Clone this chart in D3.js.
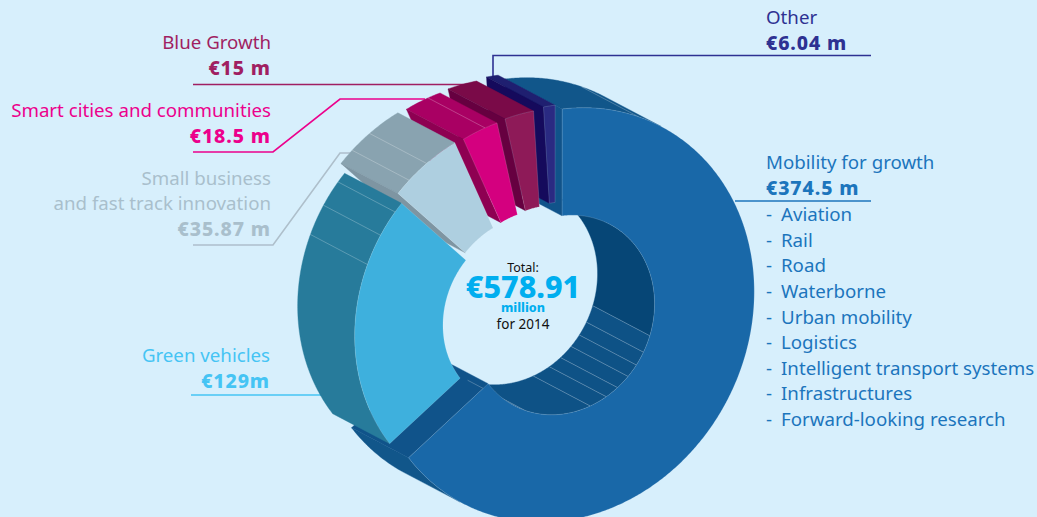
<!DOCTYPE html>
<html>
<head>
<meta charset="utf-8">
<script src="https://cdn.jsdelivr.net/npm/d3@7"></script>
<style>
  html, body { margin: 0; background: #d7effc; }
  svg { display: block; }
  text { font-family: "Noto Sans", sans-serif; }
</style>
</head>
<body>
<svg id="chart" width="1037" height="517"></svg>
<script>
// budget lines, clockwise from the top of the ring (EUR million)
const categories = ['Mobility for growth', 'Green vehicles', 'Small business and fast track innovation', 'Smart cities and communities', 'Blue Growth', 'Other'];
const values = [374.5, 129, 35.87, 18.5, 15, 6.04];

const mobilitySections = [37.5, 136.8, 15.9, 13.2, 12.7, 14, 13.3, 17.4, 66.9, 46.8];
const greenSections = [95.2, 15.4, 13.2, 5.2];
const smallBusinessSections = [8, 11.3, 16.57];
const smartSections = [12, 6.5];
const blueSections = [15];
const otherSections = [6.04];
const sections = [mobilitySections, greenSections, smallBusinessSections, smartSections, blueSections, otherSections];

const mobilityTopics = ['Aviation', 'Rail', 'Road', 'Waterborne', 'Urban mobility', 'Logistics', 'Intelligent transport systems', 'Infrastructures', 'Forward-looking research'];

// look of each slice
const frontColors = ['#1968a8', '#3eb0dd', '#aecfe0', '#d4007f', '#8e1a58', '#2a2a82'];
const outerColors = ['#11568a', '#277b9b', '#89a3b0', '#a90063', '#7a0a48', '#1f1f70'];
const sideColors = ['#10538a', '#277b9b', '#7e95a2', '#8e0052', '#660040', '#150a5c'];
const innerColors = ['#0e5286', '#0e5286', '#7e95a2', '#8e0052', '#660040', '#150a5c'];
const sliceCentersX = [562, 528, 530, 537, 545, 555];
const sliceCentersY = [315, 315, 310, 303, 299, 296];
const sliceScales = [1, 0.91, 0.95, 0.93, 0.93, 0.935];
const sliceOuterR = [214, 212, 212, 212, 212, 212];
const sliceInnerR = [103, 104, 104, 104, 104, 104];
const paintOrder = [0, 5, 4, 3, 2, 1];

// the disc is turned in 3D: squashed along tilt, pushed back along depth
const deg = Math.PI / 180;
const axisU = [-0.47, 0.88];
const axisV = [0.88, 0.47];
const squash = 0.873;
const depthX = -57, depthY = -30;

const svg = d3.select('#chart');
const lineGen = d3.line();

function project(a, r, back, i) {
  const qx = Math.sin(a), qy = -Math.cos(a);
  const cu = qx * axisU[0] + qy * axisU[1];
  const cv = (qx * axisV[0] + qy * axisV[1]) * squash;
  const s = r * sliceScales[i];
  return [
    sliceCentersX[i] + s * (cu * axisU[0] + cv * axisV[0]) + (back ? depthX : 0),
    sliceCentersY[i] + s * (cu * axisU[1] + cv * axisV[1]) + (back ? depthY : 0)
  ];
}

function tiltOf(a) {
  return Math.sin(a) * axisV[0] - Math.cos(a) * axisV[1];
}

// sample an angle range and keep the runs that face the viewer
function facingRuns(a0, a1, sign) {
  const steps = Math.max(2, Math.ceil((a1 - a0) / (0.5 * deg)));
  const runs = [];
  let run = null;
  d3.range(steps + 1).forEach(k => {
    const a = a0 + (a1 - a0) * k / steps;
    if (tiltOf(a) * sign > 0) {
      if (!run) { run = []; runs.push(run); }
      run.push(a);
    } else run = null;
  });
  return runs;
}

function drawWall(g, a0, a1, r, sign, i, color) {
  facingRuns(a0, a1, sign).forEach(run => {
    if (run.length < 2) return;
    const pts = run.map(a => project(a, r, false, i)).concat(run.slice().reverse().map(a => project(a, r, true, i)));
    g.append('path').attr('d', lineGen(pts) + 'Z').attr('fill', color).attr('stroke', color).attr('stroke-width', 0.4);
  });
}

function drawSide(g, a, r0, r1, facing, i, color) {
  // side normal is the tangent at a, flipped for the start of a slice
  const n = (Math.cos(a) * axisV[0] + Math.sin(a) * axisV[1]) * facing;
  if (n >= 0) return;
  const pts = [project(a, r0, false, i), project(a, r1, false, i), project(a, r1, true, i), project(a, r0, true, i)];
  g.append('path').attr('d', lineGen(pts) + 'Z').attr('fill', color).attr('stroke', color).attr('stroke-width', 0.4);
}

function drawStripe(g, a, r, sign, i) {
  if (tiltOf(a) * sign <= 0) return;
  g.append('path').attr('d', lineGen([project(a, r, false, i), project(a, r, true, i)]))
    .attr('stroke', '#fff').attr('stroke-opacity', 0.35).attr('stroke-width', 0.7).attr('fill', 'none');
}

function frontFace(a0, a1, i) {
  const steps = d3.range(0, 1.0001, 1 / Math.ceil((a1 - a0) / (0.5 * deg)));
  const outer = steps.map(t => project(a0 + (a1 - a0) * t, sliceOuterR[i], false, i));
  const inner = steps.map(t => project(a1 - (a1 - a0) * t, sliceInnerR[i], false, i));
  return lineGen(outer.concat(inner)) + 'Z';
}

// leader lines sit under the ring
const leaders = [
  { color: '#2e3192', pts: [[871, 55.5], [493, 55.5], [493, 76]] },
  { color: '#a01f62', pts: [[193, 84.5], [470, 84.5]] },
  { color: '#ec008c', pts: [[193, 152], [273, 152], [340, 99], [425, 99]] },
  { color: '#aebfcb', pts: [[193, 245], [273, 245], [340, 153], [365, 153]] },
  { color: '#45c4f4', pts: [[191, 395], [325, 395]] },
  { color: '#1c75bc', pts: [[735, 201], [871, 201]] }
];
svg.append('g').selectAll('path').data(leaders).join('path')
  .attr('d', d => lineGen(d.pts)).attr('fill', 'none')
  .attr('stroke', d => d.color).attr('stroke-width', 1.6);

const arcs = d3.pie().sort(null).startAngle(-3.3 * deg).endAngle(356.7 * deg)(values);

paintOrder.forEach(i => {
  const arc = arcs[i];
  const g = svg.append('g').attr('class', 'slice');
  const toAngle = d3.scaleLinear().domain([0, d3.sum(sections[i])]).range([arc.startAngle, arc.endAngle]);
  const cuts = d3.cumsum(sections[i]);
  const outerR = sliceOuterR[i], innerR = sliceInnerR[i];

  drawWall(g, arc.startAngle, arc.endAngle, outerR, -1, i, outerColors[i]);
  // mobility's inner wall is darker before the first visible cut
  sections[i].forEach((v, k) => {
    const a0 = toAngle(k ? cuts[k - 1] : 0), a1 = toAngle(cuts[k]);
    drawWall(g, a0, a1, innerR, 1, i, i === 0 && k < 2 ? '#064676' : innerColors[i]);
  });
  drawSide(g, arc.startAngle, innerR, outerR, -1, i, sideColors[i]);
  drawSide(g, arc.endAngle, innerR, outerR, 1, i, sideColors[i]);

  cuts.slice(0, -1).forEach(c => {
    drawStripe(g, toAngle(c), outerR, -1, i);
    drawStripe(g, toAngle(c), innerR, 1, i);
  });

  g.append('path').attr('d', frontFace(arc.startAngle, arc.endAngle, i))
    .attr('fill', frontColors[i]).attr('stroke', '#fff').attr('stroke-opacity', 0.3).attr('stroke-width', 0.5);
});

// labels
const labelSize = 18.7;
function label(x, y, str, color, anchor, bold, size) {
  const t = svg.append('text').attr('x', x).attr('y', y).attr('fill', color)
    .attr('text-anchor', anchor).attr('font-size', size || (bold ? 19.5 : labelSize))
    .attr('font-weight', bold ? 800 : 400).text(str);
  if (bold && !size) t.attr('letter-spacing', 0.9);
}

label(766, 24, 'Other', '#2e3192', 'start');
label(766, 50, '€6.04 m', '#2e3192', 'start', true);

label(766, 169, categories[0], '#1c75bc', 'start');
label(766, 195, '€374.5 m', '#1c75bc', 'start', true);
const topicY = d3.scalePoint().domain(mobilityTopics).range([221, 426]);
mobilityTopics.forEach(t => {
  label(766, topicY(t), '-', '#1c75bc', 'start');
  label(781, topicY(t), t, '#1c75bc', 'start');
});

label(271, 49, categories[4], '#a01f62', 'end');
label(271, 75, '€15 m', '#a01f62', 'end', true);

label(271, 117, categories[3], '#ec008c', 'end');
label(271, 143, '€18.5 m', '#ec008c', 'end', true);

label(271, 185, 'Small business', '#a9bfcc', 'end');
label(271, 210, 'and fast track innovation', '#a9bfcc', 'end');
label(271, 236, '€35.87 m', '#a9bfcc', 'end', true);

label(270, 362, categories[1], '#45c4f4', 'end');
label(270, 388, '€129m', '#45c4f4', 'end', true);

label(523, 272, 'Total:', '#111', 'middle', false, 12.5);
label(523, 298, '€' + d3.format('.2f')(d3.sum(values)), '#00aeef', 'middle', true, 30.5);
label(523, 312, 'million', '#00aeef', 'middle', true, 12.5);
label(523, 329, 'for 2014', '#111', 'middle', false, 13.5);
</script>
</body>
</html>
